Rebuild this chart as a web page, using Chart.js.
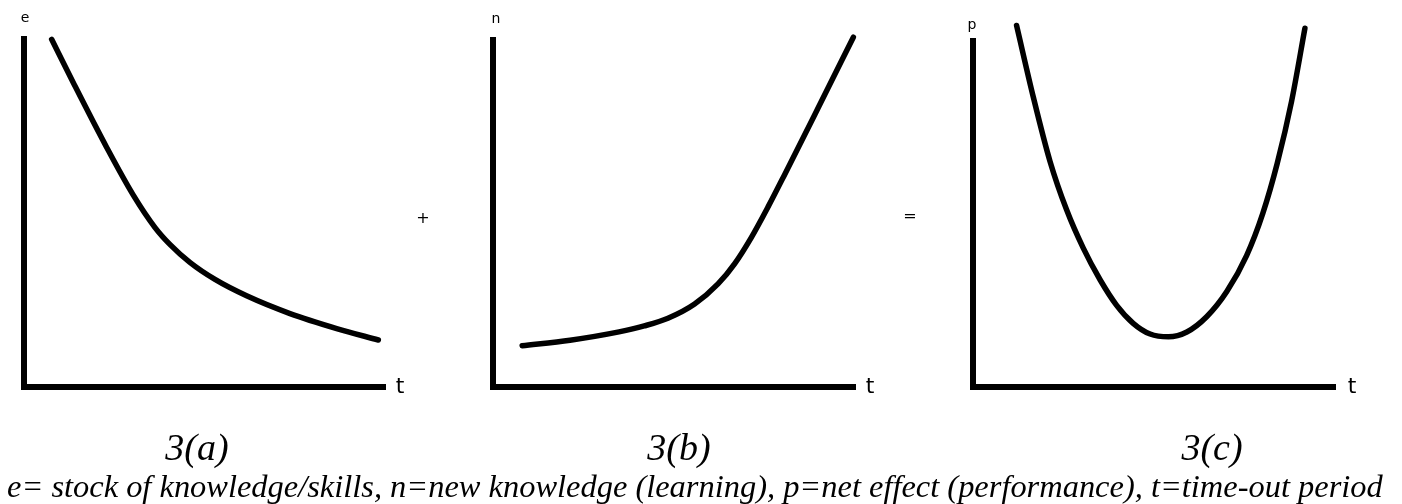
<!DOCTYPE html>
<html>
<head>
<meta charset="utf-8">
<script src="https://cdn.jsdelivr.net/npm/chart.js@4"></script>
<style>
  html, body { margin: 0; padding: 0; background: #fff; }
  #wrap { position: relative; width: 1402px; height: 504px; overflow: hidden; background: #fff; }
  canvas { position: absolute; left: 0; top: 0; }
  .t { position: absolute; white-space: nowrap; line-height: 1; color: #000; }
  .sans { font-family: 'DejaVu Sans', sans-serif; }
  .serif { font-family: 'Liberation Serif', 'Times New Roman', serif; font-style: italic; }
</style>
</head>
<body>
<div id="wrap">
  <canvas id="ca" width="1402" height="504"></canvas>
  <canvas id="cb" width="1402" height="504"></canvas>
  <canvas id="cc" width="1402" height="504"></canvas>
</div>
<script>
// ---- Data (t in 0..100 along the time axis, value in 0..100 of the axis height) ----
const aT = [7.7, 13.7, 23.0, 30.4, 36.5, 40.7, 46.2, 53.2, 62.0, 74.1, 87.1, 98.7];
const aE = [99.9, 87.5, 68.9, 55.2, 45.8, 40.9, 35.8, 30.9, 26.2, 21.1, 16.8, 13.5];

const bT = [8.1, 21.4, 35.0, 42.0, 48.6, 56.0, 62.5, 67.1, 71.7, 76.4, 81.0, 90.3, 100.1];
const bN = [11.9, 13.5, 15.9, 17.6, 19.8, 23.9, 29.7, 35.5, 43.0, 51.9, 61.2, 80.4, 100.8];

const cT = [12.1, 16.8, 21.4, 26.0, 30.6, 35.3, 39.9, 44.5, 49.2, 54.3, 59.4, 64.9, 70.5, 76.0, 80.5, 84.5, 88.5, 92.2];
const cP = [104.5, 83.6, 65.2, 51.2, 40.2, 31.0, 23.6, 18.4, 15.3, 14.5, 15.9, 20.3, 27.6, 38.0, 50.2, 64.6, 82.6, 103.7];

const axisLetters = ['e', 'n', 'p'];
const timeLetter = 't';
const operators = ['+', '='];
const captions = ['3(a)', '3(b)', '3(c)'];
const footnote = 'e= stock of knowledge/skills, n=new knowledge (learning), p=net effect (performance), t=time-out period';

// ---- Layout (pixel frame of each panel) ----
const W = 1402, H = 504;
const frames = [
  { id: 'ca', left: 24,  right: 383,  top: 39, bottom: 387 },
  { id: 'cb', left: 493, right: 853,  top: 40, bottom: 387 },
  { id: 'cc', left: 973, right: 1333, top: 41, bottom: 387 }
];
const series = [[aT, aE], [bT, bN], [cT, cP]];

function makeChart(frame, xs, ys) {
  const pts = xs.map((x, i) => ({ x: x, y: ys[i] }));
  const zeroW = s => { s.width = 0; };
  const zeroH = s => { s.height = 0; };
  return new Chart(document.getElementById(frame.id), {
    type: 'line',
    data: { datasets: [{
      data: pts,
      borderColor: '#000',
      borderWidth: 5.5,
      pointRadius: 0,
      cubicInterpolationMode: 'monotone',
      borderCapStyle: 'round',
      borderJoinStyle: 'round',
      fill: false,
      clip: false
    }]},
    options: {
      responsive: false,
      animation: false,
      events: [],
      layout: { padding: { left: frame.left, right: W - frame.right, top: frame.top, bottom: H - frame.bottom } },
      plugins: { legend: { display: false }, tooltip: { enabled: false }, title: { display: false } },
      scales: {
        x: { type: 'linear', min: 0, max: 100,
             ticks: { display: false }, grid: { display: false, drawTicks: false, lineWidth: 6 },
             border: { display: true, color: '#000', width: 6 }, afterFit: zeroH },
        y: { type: 'linear', min: 0, max: 100,
             ticks: { display: false }, grid: { display: false, drawTicks: false, lineWidth: 6 },
             border: { display: true, color: '#000', width: 6 }, afterFit: zeroW }
      }
    }
  });
}
frames.forEach((f, i) => makeChart(f, series[i][0], series[i][1]));

// ---- Text ----
const wrap = document.getElementById('wrap');
function addText(str, x, baseline, size, cls, align) {
  const d = document.createElement('div');
  d.className = 't ' + cls;
  d.textContent = str;
  d.style.fontSize = size + 'px';
  d.style.top = (baseline - 0.84 * size) + 'px';
  d.style.left = x + 'px';
  if (align === 'center') d.style.transform = 'translateX(-50%)';
  wrap.appendChild(d);
  return d;
}
// axis letters
addText(axisLetters[0], 25, 22, 14, 'sans', 'center');
addText(axisLetters[1], 496, 23, 14, 'sans', 'center');
addText(axisLetters[2], 972, 29, 14, 'sans', 'center');
// time letters
addText(timeLetter, 400, 393, 22, 'sans', 'center');
addText(timeLetter, 870, 393, 22, 'sans', 'center');
addText(timeLetter, 1352, 393, 22, 'sans', 'center');
// operators
addText(operators[0], 423, 223, 16, 'sans', 'center');
addText(operators[1], 910, 221, 16, 'sans', 'center');
// captions
addText(captions[0], 197, 460, 38, 'serif', 'center');
addText(captions[1], 679, 460, 38, 'serif', 'center');
addText(captions[2], 1212, 460, 38, 'serif', 'center');
// footnote fitted to its measured width
const mc = document.createElement('canvas').getContext('2d');
mc.font = "italic 30px 'Liberation Serif'";
const fw = mc.measureText(footnote).width;
const fsize = 30 * 1376 / fw;
addText(footnote, 7, 497, fsize, 'serif', 'left');
</script>
</body>
</html>
